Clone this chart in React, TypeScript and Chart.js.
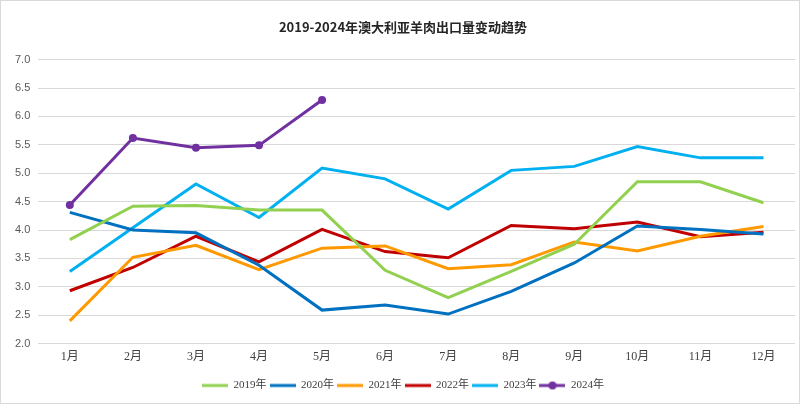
import React, { useEffect, useRef } from "react";
import { Chart, registerables } from "chart.js";

Chart.register(...registerables);

const months = ["1月", "2月", "3月", "4月", "5月", "6月", "7月", "8月", "9月", "10月", "11月", "12月"];
const seriesNames = ["2019年", "2020年", "2021年", "2022年", "2023年", "2024年"];
const v2019 = [3.83, 4.42, 4.43, 4.35, 4.35, 3.29, 2.81, 3.27, 3.75, 4.85, 4.85, 4.48];
const v2020 = [4.31, 4.0, 3.95, 3.38, 2.59, 2.68, 2.52, 2.92, 3.42, 4.07, 4.01, 3.93];
const v2021 = [2.4, 3.52, 3.73, 3.3, 3.68, 3.72, 3.32, 3.39, 3.79, 3.63, 3.89, 4.06];
const v2022 = [2.93, 3.34, 3.89, 3.44, 4.01, 3.62, 3.51, 4.08, 4.02, 4.14, 3.88, 3.96];
const v2023 = [3.27, 4.04, 4.81, 4.22, 5.09, 4.9, 4.37, 5.05, 5.12, 5.47, 5.27, 5.27];
const v2024 = [4.44, 5.62, 5.45, 5.49, 6.29];
const colors = ["#92d050", "#0070c0", "#ff9900", "#c00000", "#00b0f0", "#7030a0"];
const titleText = "2019-2024年澳大利亚羊肉出口量变动趋势";

function legendIcon(color: string, withPoint: boolean) {
  const c = document.createElement("canvas");
  c.width = 26;
  c.height = 10;
  const ctx = c.getContext("2d")!;
  ctx.strokeStyle = color;
  ctx.lineWidth = 3;
  ctx.beginPath();
  ctx.moveTo(0, 5);
  ctx.lineTo(26, 5);
  ctx.stroke();
  if (withPoint) {
    ctx.fillStyle = color;
    ctx.beginPath();
    ctx.arc(13, 5, 4, 0, Math.PI * 2);
    ctx.fill();
  }
  return c;
}

export default function App() {
  const ref = useRef<HTMLCanvasElement>(null);
  useEffect(() => {
    document.body.style.margin = "0";
    const all = [v2019, v2020, v2021, v2022, v2023, v2024];
    const icons = colors.map((c, i) => legendIcon(c, i === 5));
    const chart = new Chart(ref.current!, {
      type: "line",
      data: {
        labels: months,
        datasets: all.map((d, i) => ({
          label: seriesNames[i],
          data: d,
          borderColor: colors[i],
          backgroundColor: colors[i],
          borderWidth: 3,
          pointRadius: i === 5 ? 4 : 0,
          pointHoverRadius: i === 5 ? 4 : 0,
          pointBackgroundColor: colors[i],
          pointBorderWidth: 0,
          pointStyle: "circle",
          tension: 0,
          fill: false,
        })),
      },
      options: {
        responsive: false,
        animation: false,
        layout: { padding: { left: 6, right: 0, top: 4, bottom: 2 } },
        plugins: {
          title: {
            display: true,
            text: titleText,
            color: "#262626",
            font: { family: "'Noto Sans CJK SC', 'Noto Sans', sans-serif", size: 13, weight: "bold" },
            padding: { top: 14, bottom: 25 },
          },
          legend: {
            position: "bottom",
            labels: {
              usePointStyle: true,
              pointStyleWidth: 26,
              color: "#404040",
              font: { family: "'Liberation Serif', 'Noto Sans CJK SC', serif", size: 11 },
              padding: 3,
              boxHeight: 10,
              generateLabels: (ch: any) =>
                ch.data.datasets.map((ds: any, i: number) => ({
                  text: ds.label,
                  pointStyle: icons[i],
                  fillStyle: ds.borderColor,
                  strokeStyle: ds.borderColor,
                  lineWidth: 0,
                  datasetIndex: i,
                  hidden: false,
                  fontColor: "#404040",
                })),
            },
          },
          tooltip: { enabled: false },
        },
        scales: {
          x: {
            offset: true,
            grid: { display: false, drawTicks: false },
            border: { display: false },
            afterFit: (s: any) => {
              s.height += 7;
            },
            ticks: {
              color: "#404040",
              font: { family: "'Liberation Serif', 'Noto Sans CJK SC', serif", size: 12 },
              padding: 6,
            },
          },
          y: {
            min: 2,
            max: 7,
            grid: { color: "#d9d9d9", drawTicks: false },
            border: { display: false },
            ticks: {
              stepSize: 0.5,
              color: "#595959",
              padding: 8,
              font: { family: "'Liberation Sans', 'DejaVu Sans', sans-serif", size: 11 },
              callback: (v: any) => Number(v).toFixed(1),
            },
          },
        },
      },
    });
    return () => chart.destroy();
  }, []);
  return (
    <div style={{ width: 800, height: 404, boxSizing: "border-box", border: "1px solid #d9d9d9", background: "#fff" }}>
      <canvas ref={ref} width={798} height={402} />
    </div>
  );
}
